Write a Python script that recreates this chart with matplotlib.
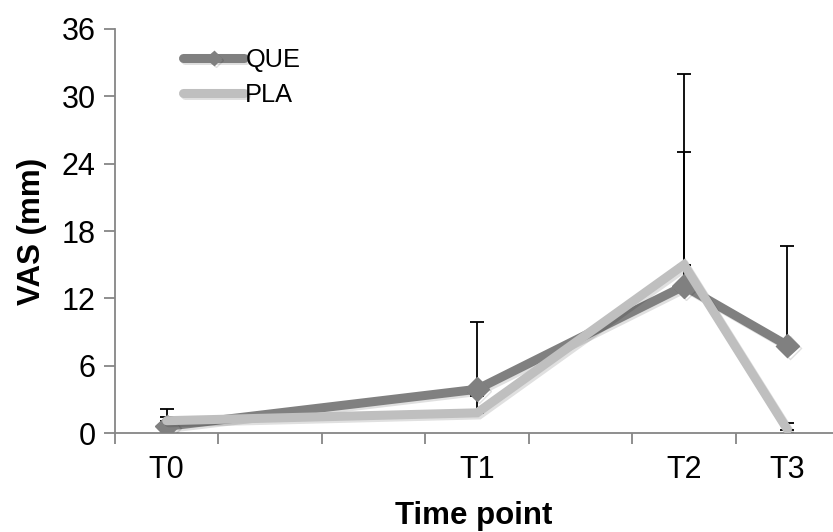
import matplotlib
matplotlib.use("Agg")
import matplotlib.pyplot as plt
import matplotlib.patheffects as pe
import numpy as np

plt.rcParams['font.family'] = ['Liberation Sans', 'DejaVu Sans']

# time points (placed between integer ticks on a numeric axis)
time_labels = ['T0', 'T1', 'T2', 'T3']
time_pos = [0.5, 3.5, 5.5, 6.5]

que = [0.6, 3.9, 13.1, 7.8]
que_err = [1.5, 6.0, 11.9, 8.9]
pla = [1.1, 1.8, 15.0, 0.3]
pla_err = [0.3, 1.5, 17.0, 0.6]

fig = plt.figure(figsize=(8.33, 5.32), dpi=100)
ax = fig.add_axes([0.138, 0.186, 0.862, 0.7595])

shadow = [pe.SimpleLineShadow(offset=(1.5, -1.5), alpha=0.12, shadow_color='black'), pe.Normal()]

# error bars (upper only), drawn behind the lines
ax.errorbar(time_pos, que, yerr=[np.zeros(4), que_err], fmt='none', ecolor='black',
            elinewidth=1.3, capsize=5, capthick=1.3, zorder=1)
ax.errorbar(time_pos, pla, yerr=[np.zeros(4), pla_err], fmt='none', ecolor='black',
            elinewidth=1.3, capsize=5, capthick=1.3, zorder=1)

ax.plot(time_pos, que, color='#808080', lw=6.5, marker='D', ms=12, mec='#808080',
        solid_capstyle='round', solid_joinstyle='miter', label='QUE', zorder=3,
        path_effects=shadow)
ax.plot(time_pos, pla, color='#bfbfbf', lw=6.5, solid_capstyle='round',
        solid_joinstyle='miter', label='PLA', zorder=4, path_effects=shadow)

ax.set_ylim(0, 36)
ax.set_yticks(np.arange(0, 37, 6))
ax.set_xlim(0, 6.94)
ax.set_xticks(time_pos)
ax.set_xticklabels(time_labels)
ax.set_xticks(np.arange(0, 7), minor=True)
ax.tick_params(axis='x', which='major', length=0, pad=16, labelsize=22)
ax.tick_params(axis='x', which='minor', length=8, width=1.3, color='#868686')
ax.tick_params(axis='y', length=8, width=1.3, color='#868686', labelsize=22, pad=6)

for s in ['top', 'right']:
    ax.spines[s].set_visible(False)
for s in ['left', 'bottom']:
    ax.spines[s].set_color('#868686')
    ax.spines[s].set_linewidth(1.3)

ax.set_xlabel('Time point', fontsize=22.5, fontweight='bold', labelpad=11)
ax.set_ylabel('VAS (mm)', fontsize=22.5, fontweight='bold', labelpad=10)

leg = ax.legend(loc='upper left', bbox_to_anchor=(0.063, 1.01), frameon=False, fontsize=18.3,
                handlelength=2.4, handletextpad=0.05, labelspacing=0.45, markerscale=0.6)

fig.savefig('out.png', dpi=100)
